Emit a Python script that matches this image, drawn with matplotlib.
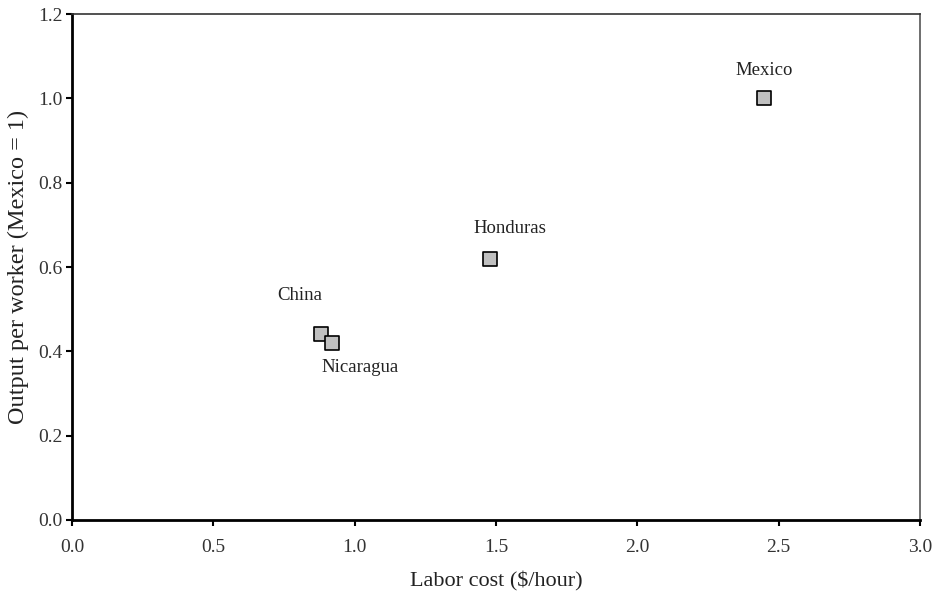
import matplotlib.pyplot as plt

countries = ["China", "Nicaragua", "Honduras", "Mexico"]
labor_cost = [0.88, 0.92, 1.48, 2.45]
output_per_worker = [0.44, 0.42, 0.62, 1.00]
# label offsets in points (dx, dy)
label_offsets = [(-15, 28), (20, -18), (14, 22), (0, 20)]

plt.rcParams['font.family'] = ['Liberation Serif', 'DejaVu Serif']

fig = plt.figure(figsize=(9.37, 5.99), dpi=100)
ax = fig.add_axes([0.0768, 0.1319, 0.905, 0.8447])

ax.scatter(labor_cost, output_per_worker, marker='s', s=110, facecolor='#c0c0c0',
           edgecolor='black', linewidth=1.2, zorder=3)

for name, x, y, (dx, dy) in zip(countries, labor_cost, output_per_worker, label_offsets):
    ax.annotate(name, (x, y), xytext=(dx, dy), textcoords='offset points',
                ha='center', va='center', fontsize=13.5, color='#222222')

ax.set_xlim(0, 3.0)
ax.set_ylim(0, 1.2)
ax.set_xticks([0.0, 0.5, 1.0, 1.5, 2.0, 2.5, 3.0])
ax.set_yticks([0.0, 0.2, 0.4, 0.6, 0.8, 1.0, 1.2])
ax.set_xticklabels(["0.0", "0.5", "1.0", "1.5", "2.0", "2.5", "3.0"])
ax.set_yticklabels(["0.0", "0.2", "0.4", "0.6", "0.8", "1.0", "1.2"])
ax.tick_params(axis='both', direction='out', length=4, width=1.5, labelsize=14,
               colors='black', labelcolor='#333333')
ax.tick_params(axis='x', pad=10)
ax.tick_params(axis='y', pad=3)

for s in ['left', 'bottom']:
    ax.spines[s].set_linewidth(2.0)
    ax.spines[s].set_color('black')
ax.spines['top'].set_linewidth(1.2)
ax.spines['top'].set_color('#333333')
ax.spines['right'].set_linewidth(1.2)
ax.spines['right'].set_color('#555555')

ax.set_xlabel("Labor cost ($/hour)", fontsize=16, color='#222222', labelpad=11)
ax.set_ylabel("Output per worker (Mexico = 1)", fontsize=17.5, color='#222222', labelpad=6)

fig.savefig("out.png", dpi=100)
